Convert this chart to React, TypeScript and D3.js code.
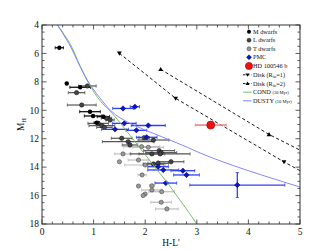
import React from "react";
import * as d3 from "d3";

// ---------- data ----------
// [H-L', M_H, xerr]
const mDwarfs: [number, number, number][] = [
  [0.335, 5.6, 0.08],
  [0.48, 8.12, 0],
  [0.74, 8.38, 0.2],
  [0.93, 10.1, 0.2],
  [0.99, 10.4, 0.17],
  [1.06, 10.87, 0.05],
  [1.19, 10.45, 0.12],
];
const lDwarfs: [number, number, number][] = [
  [0.88, 8.29, 0.17],
  [0.67, 8.76, 0.16],
  [0.77, 9.63, 0.28],
  [1.25, 10.56, 0.1],
  [1.32, 10.68, 0.08],
  [1.09, 10.92, 0.2],
  [1.16, 11.08, 0.25],
  [1.21, 11.2, 0.15],
  [1.545, 11.97, 0.2],
  [1.67, 12.21, 0.5],
  [1.705, 12.44, 0.15],
  [1.98, 11.93, 0.1],
  [2.16, 12.09, 0.3],
  [2.27, 12.84, 0.3],
  [2.31, 12.98, 0.3],
  [2.29, 13.07, 0.58],
  [2.13, 13.07, 0.25],
  [2.16, 13.78, 0.2],
  [2.25, 13.73, 0.2],
  [2.5, 13.62, 0.25],
];
const tDwarfs: [number, number, number][] = [
  [1.93, 12.56, 0.35],
  [2.06, 12.6, 0.3],
  [1.57, 13.07, 0.16],
  [1.5, 13.62, 0],
  [1.87, 13.5, 0.2],
  [2.0, 13.85, 0.4],
  [1.94, 14.55, 0.08],
  [1.87, 15.33, 0],
  [2.13, 15.31, 0.05],
  [2.13, 15.61, 0.2],
  [2.32, 15.73, 0.25],
  [2.0, 15.89, 0],
  [1.96, 16.0, 0],
  [2.31, 16.47, 0.2],
  [2.42, 16.94, 0.22],
];
// [H-L', M_H, xerr, yerr]
const pmc: [number, number, number, number][] = [
  [1.57, 9.87, 0.2, 0],
  [1.8, 9.75, 0.09, 0],
  [1.595, 10.92, 0.23, 0],
  [2.06, 11.07, 0.33, 0],
  [1.415, 11.34, 0.26, 0],
  [1.83, 11.41, 0.2, 0],
  [2.03, 11.9, 0.2, 0],
  [2.25, 13.97, 0.2, 0],
  [2.35, 14.2, 0.3, 0],
  [2.73, 14.25, 0.23, 0],
  [2.8, 14.55, 0.25, 0],
  [2.4, 15.12, 0.21, 0],
  [3.785, 15.26, 0.92, 0.88],
];
const hd100546b: [number, number, number][] = [[3.27, 11.04, 0.3]];

const diskRin1: [number, number][] = [
  [1.5, 5.99], [2.59, 9.16], [4.69, 13.63], [5.0, 14.25],
];
const diskRin1Marks: [number, number][] = [[1.5, 5.99], [2.59, 9.16], [4.69, 13.63]];
const diskRin2: [number, number][] = [
  [2.3, 7.12], [4.4, 11.7], [5.0, 12.8],
];
const diskRin2Marks: [number, number][] = [[2.3, 7.12], [4.4, 11.7]];

const cond: [number, number][] = [
  [0.3, 4], [0.54, 5.3], [0.74, 6.9], [0.92, 8.2], [1.12, 9.3], [1.38, 10.3],
  [1.67, 11.6], [1.93, 12.8], [2.2, 14.05], [2.45, 15.2], [2.67, 16.3], [2.85, 17.2], [3.0, 18.0],
];
const dusty: [number, number][] = [
  [0.3, 4], [0.52, 5.3], [0.75, 7.0], [0.95, 8.3], [1.16, 9.3], [1.29, 9.86],
  [1.48, 10.45], [1.67, 10.85], [2.0, 11.39], [2.32, 11.86], [2.71, 12.44], [3.16, 13.15], [5.0, 15.4],
];

const xTicks = [0, 1, 2, 3, 4, 5];
const yTicks = [4, 6, 8, 10, 12, 14, 16, 18];
const legendLabels = ["M dwarfs", "L dwarfs", "T dwarfs", "PMC", "HD 100546 b", "Disk", "Disk", "COND", "DUSTY"];

// ---------- layout ----------
const W = 334, H = 250;
const L = 42, R = 300, T = 25, B = 224;
const FONT = "'Liberation Serif', 'DejaVu Serif', serif";

const x = d3.scaleLinear().domain([0, 5]).range([L, R]);
const y = d3.scaleLinear().domain([4, 18]).range([T, B]);

const COL = {
  m: "#000000",
  l: "#444444",
  lbar: "#555555",
  t: "#9a9a9a",
  tbar: "#bdbdbd",
  pmc: "#0a14c8",
  pmcbar: "#3040f0",
  red: "#ee1111",
  redbar: "#f08080",
  cond: "#66bb55",
  dusty: "#7777ff",
};

function ErrBar({ cx, cy, xe, ye, color, w = 1.2 }: any) {
  const els: any[] = [];
  if (xe > 0) {
    const x0 = x(cx - xe), x1 = x(cx + xe), yy = y(cy);
    els.push(<line key="h" x1={x0} x2={x1} y1={yy} y2={yy} stroke={color} strokeWidth={w} />);
    els.push(<line key="c0" x1={x0} x2={x0} y1={yy - 1.6} y2={yy + 1.6} stroke={color} strokeWidth={0.8} />);
    els.push(<line key="c1" x1={x1} x2={x1} y1={yy - 1.6} y2={yy + 1.6} stroke={color} strokeWidth={0.8} />);
  }
  if (ye > 0) {
    const y0 = y(cy - ye), y1 = y(cy + ye), xx = x(cx);
    els.push(<line key="v" x1={xx} x2={xx} y1={y0} y2={y1} stroke={color} strokeWidth={w} />);
    els.push(<line key="d0" x1={xx - 1.6} x2={xx + 1.6} y1={y0} y2={y0} stroke={color} strokeWidth={0.8} />);
    els.push(<line key="d1" x1={xx - 1.6} x2={xx + 1.6} y1={y1} y2={y1} stroke={color} strokeWidth={0.8} />);
  }
  return <g>{els}</g>;
}

const diamond = (cx: number, cy: number, r: number) =>
  `M${cx},${cy - r}L${cx + r},${cy}L${cx},${cy + r}L${cx - r},${cy}Z`;
const triDown = (cx: number, cy: number, r: number) =>
  `M${cx - r},${cy - r * 0.7}L${cx + r},${cy - r * 0.7}L${cx},${cy + r}Z`;
const triUp = (cx: number, cy: number, r: number) =>
  `M${cx - r},${cy + r * 0.7}L${cx + r},${cy + r * 0.7}L${cx},${cy - r}Z`;

export default function App() {
  const line = d3.line<[number, number]>().x((d) => x(d[0])).y((d) => y(d[1]));
  const curve = d3.line<[number, number]>().x((d) => x(d[0])).y((d) => y(d[1])).curve(d3.curveMonotoneY);

  const xMinor = d3.range(0, 5.001, 0.2);
  const yMinor = d3.range(4, 18.001, 0.5);

  const legY = [31.7, 40.2, 48.8, 57.3, 66, 74.8, 83.5, 92.2, 100.8];
  const lsx = 249, ltx = 253;

  return (
    <svg width={W} height={H} style={{ position: "absolute", left: 0, top: 0, background: "#fff" }} fontFamily={FONT}>
      <defs>
        <clipPath id="plot"><rect x={L} y={T} width={R - L} height={B - T} /></clipPath>
      </defs>
      <rect x={0} y={0} width={W} height={H} fill="#fff" />

      <g clipPath="url(#plot)">
        {/* disk model lines */}
        <path d={line(diskRin1) || ""} fill="none" stroke="#000" strokeWidth={0.9} strokeDasharray="3.2,2.4" />
        <path d={line(diskRin2) || ""} fill="none" stroke="#000" strokeWidth={0.9} strokeDasharray="3.2,2.4" />
        {diskRin1Marks.map((d, i) => <path key={"d1" + i} d={triDown(x(d[0]), y(d[1]), 2.4)} fill="#000" />)}
        {diskRin2Marks.map((d, i) => <path key={"d2" + i} d={triUp(x(d[0]), y(d[1]), 2.4)} fill="#000" />)}

        {/* error bars */}
        {tDwarfs.map((d, i) => <ErrBar key={"te" + i} cx={d[0]} cy={d[1]} xe={d[2]} ye={0} color={COL.tbar} />)}
        {lDwarfs.map((d, i) => <ErrBar key={"le" + i} cx={d[0]} cy={d[1]} xe={d[2]} ye={0} color={COL.lbar} />)}
        {mDwarfs.map((d, i) => <ErrBar key={"me" + i} cx={d[0]} cy={d[1]} xe={d[2]} ye={0} color={COL.m} />)}

        {/* markers */}
        {tDwarfs.map((d, i) => <circle key={"t" + i} cx={x(d[0])} cy={y(d[1])} r={2.1} fill={COL.t} stroke="#444" strokeWidth={0.6} />)}
        {lDwarfs.map((d, i) => <circle key={"l" + i} cx={x(d[0])} cy={y(d[1])} r={2.2} fill={COL.l} stroke="#111" strokeWidth={0.5} />)}
        {mDwarfs.map((d, i) => <circle key={"m" + i} cx={x(d[0])} cy={y(d[1])} r={2.2} fill={COL.m} />)}

        {pmc.map((d, i) => <ErrBar key={"pe" + i} cx={d[0]} cy={d[1]} xe={d[2]} ye={d[3]} color={COL.pmcbar} w={1.3} />)}
        {pmc.map((d, i) => <path key={"p" + i} d={diamond(x(d[0]), y(d[1]), 2.7)} fill={COL.pmc} stroke="#000066" strokeWidth={0.5} />)}

        {/* model isochrones */}
        <path d={curve(cond) || ""} fill="none" stroke={COL.cond} strokeWidth={0.9} />
        <path d={curve(dusty) || ""} fill="none" stroke={COL.dusty} strokeWidth={0.9} />

        {hd100546b.map((d, i) => <ErrBar key={"re" + i} cx={d[0]} cy={d[1]} xe={d[2]} ye={0} color={COL.redbar} w={1.6} />)}
        {hd100546b.map((d, i) => <circle key={"r" + i} cx={x(d[0])} cy={y(d[1])} r={4} fill={COL.red} stroke="#990000" strokeWidth={0.6} />)}
      </g>

      {/* frame and ticks */}
      <rect x={L} y={T} width={R - L} height={B - T} fill="none" stroke="#333" strokeWidth={1} />
      {xMinor.map((v, i) => {
        const major = Math.abs(v - Math.round(v)) < 1e-6;
        const len = major ? 4.5 : 2.5;
        return (
          <g key={"xt" + i}>
            <line x1={x(v)} x2={x(v)} y1={B} y2={B - len} stroke="#333" strokeWidth={0.8} />
            <line x1={x(v)} x2={x(v)} y1={T} y2={T + len} stroke="#333" strokeWidth={0.8} />
          </g>
        );
      })}
      {yMinor.map((v, i) => {
        const major = Math.abs(v / 2 - Math.round(v / 2)) < 1e-6;
        const len = major ? 4.5 : 2.5;
        return (
          <g key={"yt" + i}>
            <line x1={L} x2={L + len} y1={y(v)} y2={y(v)} stroke="#333" strokeWidth={0.8} />
            <line x1={R} x2={R - len} y1={y(v)} y2={y(v)} stroke="#333" strokeWidth={0.8} />
          </g>
        );
      })}
      {xTicks.map((v) => (
        <text key={"xl" + v} x={x(v)} y={B + 11} fontSize={9.5} textAnchor="middle" fill="#111">{v}</text>
      ))}
      {yTicks.map((v) => (
        <text key={"yl" + v} x={L - 3} y={y(v) + 3.3} fontSize={9.5} textAnchor="end" fill="#111">{v}</text>
      ))}
      <text x={(L + R) / 2} y={246} fontSize={9.5} textAnchor="middle" fill="#111">H-L'</text>
      <text transform={`translate(24,${(T + B) / 2}) rotate(-90)`} fontSize={9.5} textAnchor="middle" fill="#111">
        M<tspan fontSize={6.5} dy={2}>H</tspan>
      </text>

      {/* legend */}
      <g fontSize={6.3} fill="#111">
        <circle cx={lsx} cy={legY[0]} r={2} fill={COL.m} />
        <text x={ltx} y={legY[0] + 2}>{legendLabels[0]}</text>
        <circle cx={lsx} cy={legY[1]} r={2} fill={COL.l} stroke="#111" strokeWidth={0.5} />
        <text x={ltx} y={legY[1] + 2}>{legendLabels[1]}</text>
        <circle cx={lsx} cy={legY[2]} r={2} fill={COL.t} stroke="#444" strokeWidth={0.6} />
        <text x={ltx} y={legY[2] + 2}>{legendLabels[2]}</text>
        <path d={diamond(lsx, legY[3], 2.5)} fill={COL.pmc} stroke="#000066" strokeWidth={0.5} />
        <text x={ltx} y={legY[3] + 2}>{legendLabels[3]}</text>
        <circle cx={lsx} cy={legY[4]} r={3.6} fill={COL.red} stroke="#990000" strokeWidth={0.6} />
        <text x={ltx} y={legY[4] + 2}>{legendLabels[4]}</text>

        <line x1={243} x2={251.5} y1={legY[5]} y2={legY[5]} stroke="#000" strokeWidth={0.9} strokeDasharray="2.5,1.5" />
        <path d={triDown(247.5, legY[5], 2)} fill="#000" />
        <text x={ltx} y={legY[5] + 2}>{legendLabels[5]} (R<tspan fontSize={4.5} dy={1.5}>in</tspan><tspan dy={-1.5}>=1)</tspan></text>
        <line x1={243} x2={251.5} y1={legY[6]} y2={legY[6]} stroke="#000" strokeWidth={0.9} strokeDasharray="2.5,1.5" />
        <path d={triUp(247.5, legY[6], 2)} fill="#000" />
        <text x={ltx} y={legY[6] + 2}>{legendLabels[6]} (R<tspan fontSize={4.5} dy={1.5}>in</tspan><tspan dy={-1.5}>=2)</tspan></text>

        <line x1={243} x2={251.5} y1={legY[7]} y2={legY[7]} stroke={COL.cond} strokeWidth={0.9} />
        <text x={ltx} y={legY[7] + 2}>{legendLabels[7]} <tspan fontSize={4.5}>(30 Myr)</tspan></text>
        <line x1={243} x2={251.5} y1={legY[8]} y2={legY[8]} stroke={COL.dusty} strokeWidth={0.9} />
        <text x={ltx} y={legY[8] + 2}>{legendLabels[8]} <tspan fontSize={4.5}>(10 Myr)</tspan></text>
      </g>
    </svg>
  );
}
